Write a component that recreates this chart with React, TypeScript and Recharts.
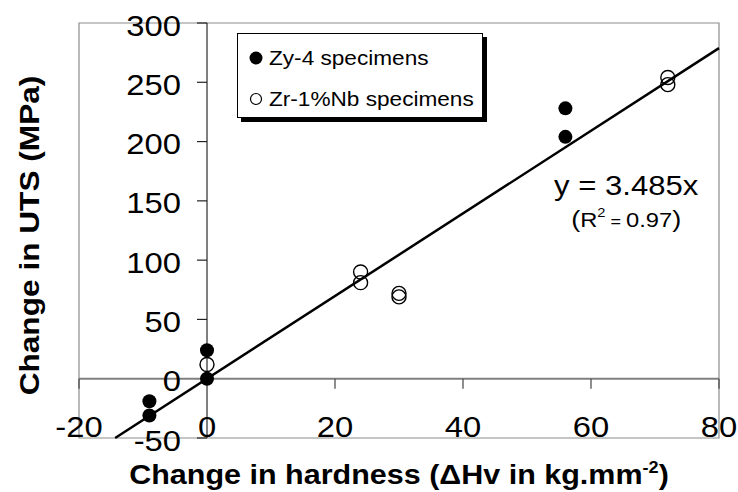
import React from 'react'
import { ScatterChart, Scatter, XAxis, YAxis, ReferenceLine, ReferenceArea, ReferenceDot, Legend, Label } from 'recharts'

const FONT = '"Liberation Sans", Arial, Helvetica, sans-serif'
// the source font is noticeably wider than Arial
const SX = 1.13

const zy4Points = [
  { x: -9, y: -19 },
  { x: -9, y: -31 },
  { x: 0, y: 24 },
  { x: 0, y: 0 },
  { x: 56, y: 228 },
  { x: 56, y: 204 },
]

const zrNbPoints = [
  { x: 0, y: 12 },
  { x: 24, y: 90 },
  { x: 24, y: 81 },
  { x: 30, y: 72 },
  { x: 30, y: 69 },
  { x: 72, y: 254 },
  { x: 72, y: 248 },
]

// fitted line y = 3.485x, clipped to the plot box
const trendPoints = [
  { x: -14.35, y: -50 },
  { x: 80, y: 278.8 },
]

const xTicks = [-20, 0, 20, 40, 60, 80]
const yTicks = [-50, 0, 50, 100, 150, 200, 250, 300]
const xTickMarks = [-20, 20, 40, 60, 80]
const yTickMarks = [-50, 50, 100, 150, 200, 250, 300]

const seriesNames = ['Zy-4 specimens', 'Zr-1%Nb specimens']

const FilledDot = (p: any) => <circle cx={p.cx} cy={p.cy} r={7} fill="#000" />
const OpenDot = (p: any) => <circle cx={p.cx} cy={p.cy} r={7} fill="none" stroke="#000" strokeWidth={1.4} />

const XTick = (p: any) => (
  <text transform={`translate(${p.x},${p.y - 1}) scale(${SX},1)`} textAnchor="middle" fontSize={29} fontFamily={FONT} fill="#000">
    {p.payload.value}
  </text>
)

const YTick = (p: any) => (
  <text transform={`translate(${p.x + 102},${p.y + 12.5}) scale(${SX},1)`} textAnchor="end" fontSize={29} fontFamily={FONT} fill="#000">
    {p.payload.value}
  </text>
)

const XMark = (p: any) => <line x1={p.cx} x2={p.cx} y1={p.cy} y2={p.cy + 10} stroke="#444" strokeWidth={1.2} />
const YMark = (p: any) => <line x1={p.cx - 10} x2={p.cx} y1={p.cy} y2={p.cy} stroke="#222" strokeWidth={1.2} />

const XTitle = (p: any) => {
  const vb = p.viewBox
  return (
    <text transform={`translate(${vb.x + vb.width / 2},${vb.y + 46}) scale(${SX},1)`} textAnchor="middle" fontSize={27} fontWeight="bold" fontFamily={FONT} fill="#000">
      Change in hardness (ΔHv in kg.mm
      <tspan fontSize={16} dy={-11}>-2</tspan>
      <tspan dy={11}>)</tspan>
    </text>
  )
}

const YTitle = (p: any) => {
  const vb = p.viewBox
  return (
    <text transform={`translate(${vb.x + 39},${vb.y + vb.height / 2 + 5}) rotate(-90) scale(${SX},1)`} textAnchor="middle" fontSize={28} fontWeight="bold" fontFamily={FONT} fill="#000">
      Change in UTS (MPa)
    </text>
  )
}

const EquationText = (p: any) => (
  <text transform={`translate(${p.cx},${p.cy}) scale(${SX},1)`} textAnchor="middle" fontSize={27.5} fontFamily={FONT} fill="#000">
    y = 3.485x
  </text>
)

const RSquaredText = (p: any) => (
  <text transform={`translate(${p.cx},${p.cy}) scale(${SX},1)`} textAnchor="middle" fontSize={21} fontFamily={FONT} fill="#000">
    <tspan fontSize={24}>(</tspan>R<tspan fontSize={13} dy={-10}>2</tspan>
    <tspan dy={10} fontSize={16}> = </tspan>0.97<tspan fontSize={24}>)</tspan>
  </text>
)

const LegendBox = () => (
  <div
    style={{
      position: 'relative',
      width: 246,
      height: 85,
      boxSizing: 'border-box',
      border: '1.5px solid #000',
      background: '#fff',
      boxShadow: '4px 4px 0 #000',
      fontFamily: FONT,
      fontSize: 20,
      color: '#000',
    }}
  >
    {seriesNames.map((name, i) => (
      <div key={name} style={{ position: 'absolute', left: 9, top: 11 + i * 41, height: 26, display: 'flex', alignItems: 'center', whiteSpace: 'nowrap' }}>
        <svg width={18} height={18} style={{ marginRight: 4 }}>
          {i === 0 ? <circle cx={9} cy={9} r={6.5} fill="#000" /> : <circle cx={9} cy={9} r={5.5} fill="none" stroke="#000" strokeWidth={1.2} />}
        </svg>
        <span style={{ display: 'inline-block', transform: `scaleX(${SX})`, transformOrigin: 'left center' }}>{name}</span>
      </div>
    ))}
  </div>
)

export default function App() {
  return (
    <div style={{ position: 'fixed', left: 0, top: 0, width: 738, height: 492, background: '#fff' }}>
      <ScatterChart width={738} height={492} margin={{ top: 23, right: 19, bottom: 0, left: 0 }}>
        <XAxis
          type="number"
          dataKey="x"
          domain={[-20, 80]}
          ticks={xTicks}
          allowDataOverflow
          height={54}
          axisLine={false}
          tickLine={false}
          tickSize={0}
          tickMargin={0}
          tick={XTick}
          label={<Label content={XTitle} />}
        />
        <YAxis
          type="number"
          dataKey="y"
          domain={[-50, 300]}
          ticks={yTicks}
          allowDataOverflow
          width={79}
          axisLine={false}
          tickLine={false}
          tickSize={0}
          tickMargin={0}
          tick={YTick}
          label={<Label content={YTitle} />}
        />
        <ReferenceArea x1={-20} x2={80} y1={-50} y2={300} fill="none" stroke="#8c8c8c" strokeWidth={1.2} ifOverflow="visible" />
        <ReferenceLine y={0} stroke="#808080" strokeWidth={2} />
        <ReferenceLine x={0} stroke="#000" strokeWidth={1} />
        {xTickMarks.map((v) => (
          <ReferenceDot key={`xm${v}`} x={v} y={0} r={0} shape={XMark} ifOverflow="visible" />
        ))}
        {yTickMarks.map((v) => (
          <ReferenceDot key={`ym${v}`} x={0} y={v} r={0} shape={YMark} ifOverflow="visible" />
        ))}
        <ReferenceLine segment={trendPoints} stroke="#000" strokeWidth={2.5} ifOverflow="visible" />
        <Scatter name={seriesNames[0]} data={zy4Points} shape={FilledDot} isAnimationActive={false} />
        <Scatter name={seriesNames[1]} data={zrNbPoints} shape={OpenDot} isAnimationActive={false} />
        <ReferenceDot x={65.5} y={155} r={0} shape={EquationText} ifOverflow="visible" />
        <ReferenceDot x={65.5} y={128} r={0} shape={RSquaredText} ifOverflow="visible" />
        <Legend layout="vertical" align="center" verticalAlign="middle" content={LegendBox} wrapperStyle={{ left: 237, top: 33, width: 'auto', height: 'auto' }} />
      </ScatterChart>
    </div>
  )
}
